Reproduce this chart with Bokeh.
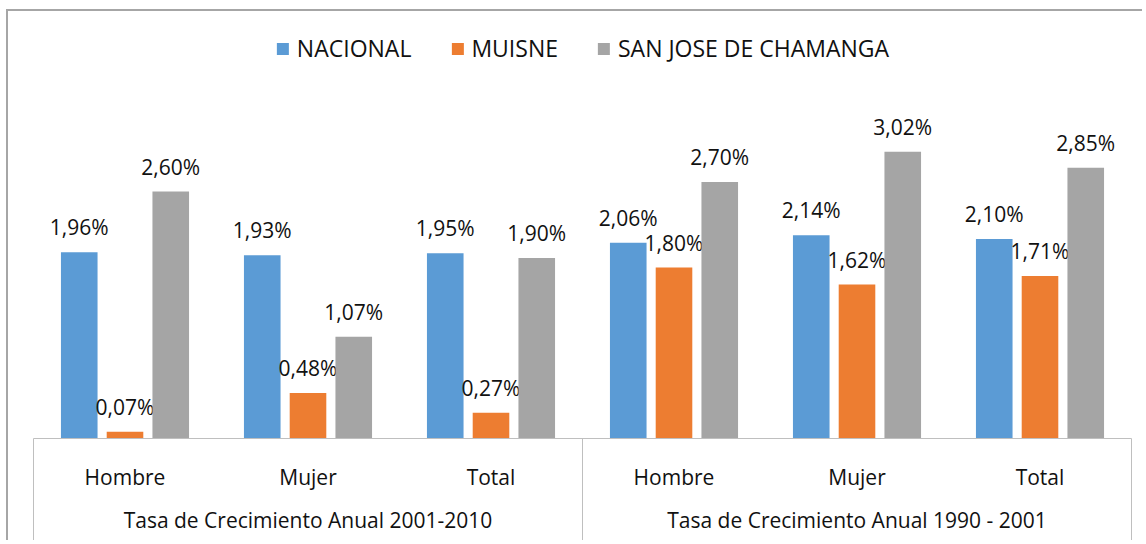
from bokeh.plotting import figure
from bokeh.models import (Range1d, FixedTicker, LinearAxis, ColumnDataSource,
                          Legend, LegendItem)
from bokeh.transform import dodge
from bokeh.embed import file_html
from bokeh.resources import INLINE

# ---- data ----
groups = ["Tasa de Crecimiento Anual 2001-2010", "Tasa de Crecimiento Anual 1990 - 2001"]
subcats = ["Hombre", "Mujer", "Total"]
series = ["NACIONAL", "MUISNE", "SAN JOSE DE CHAMANGA"]
nacional = [1.96, 1.93, 1.95, 2.06, 2.14, 2.10]
muisne = [0.07, 0.48, 0.27, 1.80, 1.62, 1.71]
chamanga = [2.60, 1.07, 1.90, 2.70, 3.02, 2.85]
colors = ["#5B9BD5", "#ED7D31", "#A5A5A5"]

FONT = "Open Sans"
n_cat = len(groups) * len(subcats)
centers = [i + 0.5 for i in range(n_cat)]
labels = subcats * len(groups)

p = figure(width=1136, height=531, output_backend="svg", toolbar_location=None,
           x_range=Range1d(0, n_cat), y_range=Range1d(0, 4.39),
           min_border_left=25, min_border_right=13, min_border_top=10,
           min_border_bottom=104, y_axis_location=None, x_axis_location=None)
p.margin = (9, 0, 0, 6)
p.outline_line_color = None
p.grid.visible = False
p.styles = {"border-left": "2px solid #a6a6a6", "border-top": "2px solid #a6a6a6"}

def fmt(v):
    return ("%.2f%%" % v).replace(".", ",")

offsets = [-0.25, 0.0, 0.25]
renderers = []
for name, vals, col, off in zip(series, [nacional, muisne, chamanga], colors, offsets):
    src = ColumnDataSource(dict(x=centers, top=vals, lbl=[fmt(v) for v in vals]))
    r = p.vbar(x=dodge("x", off), top="top", width=0.2, source=src,
               fill_color=col, line_color=None)
    p.text(x=dodge("x", off), y="top", text="lbl", source=src,
           text_align="center", text_baseline="middle", y_offset=-25,
           text_font={"value": FONT}, text_font_size="21px", text_color="#111111")
    renderers.append((name, r))

# category axis with group separators (minor ticks)
ax1 = LinearAxis(ticker=FixedTicker(ticks=centers, minor_ticks=[0, 3, 6]),
                 major_label_overrides={c: l for c, l in zip(centers, labels)})
ax1.axis_line_color = "#bfbfbf"
ax1.major_tick_line_color = None
ax1.major_tick_out = 0
ax1.major_tick_in = 0
ax1.minor_tick_line_color = "#bfbfbf"
ax1.minor_tick_out = 106
ax1.minor_tick_in = 0
ax1.major_label_standoff = 24 - 106
ax1.major_label_text_font = FONT
ax1.major_label_text_font_size = "21px"
ax1.major_label_text_color = "#111111"
p.add_layout(ax1, "below")

gcent = [1.5 + 3 * i for i in range(len(groups))]
ax2 = LinearAxis(ticker=FixedTicker(ticks=gcent, minor_ticks=[]),
                 major_label_overrides={c: g for c, g in zip(gcent, groups)})
ax2.axis_line_color = None
ax2.major_tick_line_color = None
ax2.minor_tick_line_color = None
ax2.major_tick_out = 0
ax2.major_tick_in = 0
ax2.major_label_standoff = 12
ax2.major_label_text_font = FONT
ax2.major_label_text_font_size = "21px"
ax2.major_label_text_color = "#111111"
p.add_layout(ax2, "below")

legend = Legend(items=[LegendItem(label=n, renderers=[r]) for n, r in renderers],
                orientation="horizontal", location="top_center")
legend.border_line_color = None
legend.background_fill_alpha = 0
legend.label_text_font = FONT
legend.label_text_font_size = "23px"
legend.label_text_color = "#111111"
legend.glyph_width = 15
legend.glyph_height = 15
legend.spacing = 38
legend.label_standoff = 7
legend.margin = 11
legend.padding = 0
p.add_layout(legend, "center")

open("out.html", "w").write(file_html(p, INLINE))
